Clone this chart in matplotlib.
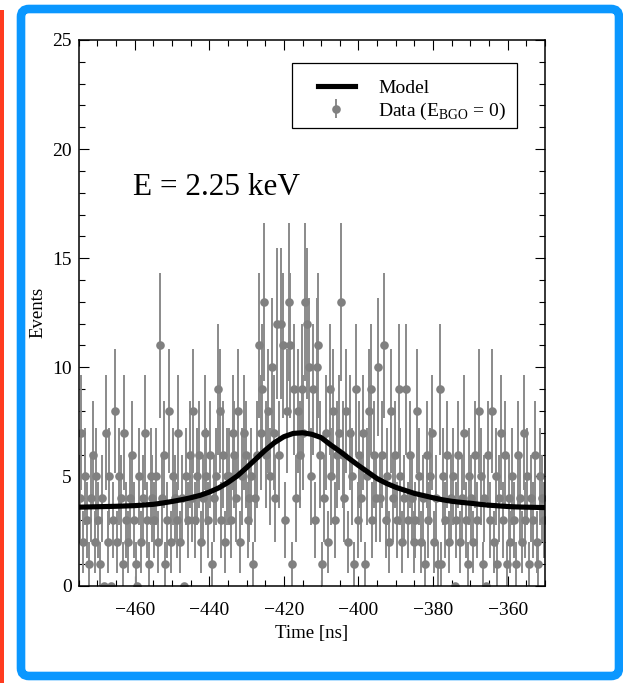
import numpy as np
import matplotlib
matplotlib.use("Agg")
import matplotlib.pyplot as plt
from matplotlib.patches import FancyBboxPatch, Rectangle
from matplotlib.lines import Line2D
from matplotlib.ticker import MultipleLocator

plt.rcParams['font.family'] = ['Liberation Serif', 'DejaVu Serif']
plt.rcParams['mathtext.fontset'] = 'custom'
plt.rcParams['mathtext.rm'] = 'Liberation Serif'

# ---- data ----
bin_start = -474.75   # centre of first bin [ns]
bin_width = 0.5       # [ns]
counts = [
    4, 7, 2, 5, 3, 1, 4, 6, 2, 5, 3, 1, 4, 0, 7, 2, 5, 0, 3, 8,
    2, 5, 4, 1, 7, 3, 2, 4, 6, 3, 1, 0, 5, 2, 4, 7, 3, 1, 5, 4,
    3, 5, 2, 11, 4, 6, 1, 3, 8, 2, 5, 4, 3, 7, 2, 4, 0, 5, 3, 6,
    4, 8, 3, 5, 6, 2, 4, 7, 5, 3, 6, 1, 4, 5, 9, 8, 3, 6, 2, 5,
    5, 3, 7, 6, 4, 8, 2, 5, 7, 6, 3, 4, 5, 1, 4, 6, 11, 7, 9, 13,
    6, 8, 5, 10, 7, 4, 12, 6, 12, 11, 3, 8, 13, 11, 1, 9, 4, 8, 6, 9,
    7, 13, 12, 10, 5, 9, 3, 10, 11, 6, 1, 4, 7, 2, 9, 5, 8, 3, 6, 7,
    13, 6, 4, 8, 2, 7, 5, 1, 9, 3, 6, 4, 7, 1, 5, 8, 9, 3, 6, 4,
    10, 4, 6, 11, 3, 5, 2, 8, 4, 6, 3, 9, 5, 2, 4, 9, 3, 6, 4, 2,
    3, 8, 5, 2, 4, 1, 6, 3, 5, 7, 2, 4, 1, 9, 1, 5, 3, 6, 2, 4,
    5, 0, 3, 6, 2, 4, 7, 3, 1, 5, 4, 2, 6, 3, 8, 5, 1, 4, 0, 6,
    3, 8, 2, 5, 1, 4, 7, 3, 6, 1, 4, 2, 5, 3, 1, 6, 4, 2, 7, 3,
    5, 1, 4, 3, 6, 2, 1, 5, 4, 3,
]

model_t = [-475, -470, -465, -460, -455, -452.5, -450, -447.5, -445, -442.5,
           -440, -437.5, -435, -432.5, -430, -427.5, -425, -422.5, -420, -417.5,
           -415, -412.5, -410, -407.5, -405, -402.5, -400, -397.5, -395, -392.5,
           -390, -387.5, -385, -382.5, -380, -377.5, -375, -372.5, -370, -367.5,
           -365, -362.5, -360, -357.5, -355, -352.5, -350]
model_y = [3.59, 3.61, 3.63, 3.66, 3.72, 3.78, 3.85, 3.93, 4.02, 4.13,
           4.28, 4.47, 4.72, 5.02, 5.40, 5.80, 6.20, 6.55, 6.82, 6.97,
           7.00, 6.93, 6.78, 6.45, 6.15, 5.82, 5.50, 5.20, 4.90, 4.68,
           4.50, 4.36, 4.22, 4.12, 4.02, 3.93, 3.86, 3.81, 3.77, 3.72,
           3.68, 3.65, 3.62, 3.60, 3.59, 3.58, 3.57]

x_ticks = [-460, -440, -420, -400, -380, -360]
y_ticks = [0, 5, 10, 15, 20, 25]

counts = np.array(counts, dtype=float)
t = bin_start + bin_width * np.arange(len(counts))
err = np.sqrt(counts)

W, H = 623, 683
fig = plt.figure(figsize=(W / 100, H / 100), dpi=100)
fig.patch.set_facecolor('white')

# decorations (display/pixel coordinates)
fig.add_artist(Rectangle((0, 0), 4, H - 10, transform=None,
                         facecolor='#FF3B1F', edgecolor='none', zorder=5))
fig.add_artist(FancyBboxPatch((21, 7), 598, 667, transform=None,
                              boxstyle='round,pad=0,rounding_size=8',
                              facecolor='none', edgecolor='#0A97FF', lw=6.2,
                              zorder=5))

ax = fig.add_axes([78.7 / W, 1 - 585.5 / H, (545 - 78.7) / W, (585.5 - 40) / H])

eb_kw = dict(fmt='o', color='#808080', ecolor='#8a8a8a', elinewidth=1.4,
             capsize=2.8, capthick=1.2, markersize=6.2, markeredgewidth=0)
ax.errorbar(t, counts, yerr=err, zorder=2, **eb_kw)
ax.plot(model_t, model_y, color='black', lw=3.7, zorder=3,
        solid_joinstyle='round')

ax.set_xlim(-475, -350)
ax.set_ylim(0, 25)
ax.set_xticks(x_ticks)
ax.set_xticklabels(['\u2212' + str(abs(v)) for v in x_ticks])
ax.set_yticks(y_ticks)
ax.xaxis.set_minor_locator(MultipleLocator(5))
ax.yaxis.set_minor_locator(MultipleLocator(1))
ax.tick_params(which='both', direction='in', top=True, right=True,
               labelsize=14, width=0.8)
ax.tick_params(which='major', length=7.5)
ax.tick_params(which='minor', length=4)
ax.tick_params(axis='x', pad=12)
ax.tick_params(axis='y', pad=5)
for s in ax.spines.values():
    s.set_linewidth(1.1)

ax.set_xlabel('Time [ns]', fontsize=13.5, labelpad=4)
ax.set_ylabel('Events', fontsize=13.5, labelpad=4)

ax.text(0.116, 0.73, 'E = 2.25 keV', transform=ax.transAxes,
        fontsize=22.5, va='center', ha='left')

# legend frame
ax.add_patch(Rectangle((0.4574, 0.8387), 0.94 - 0.4574, 0.9578 - 0.8387,
                       transform=ax.transAxes, facecolor='white',
                       edgecolor='black', lw=0.9, zorder=4))
h_model = Line2D([], [], color='black', lw=3.7)
h_data = ax.errorbar([], [], yerr=[], **eb_kw)
leg = ax.legend([h_model, h_data],
                ['Model', r'Data (E$_\mathregular{BGO}$ = 0)'],
                loc='upper left', bbox_to_anchor=((318 - 78.7) / 466.3, (585.5 - 79) / 545.5),
                borderaxespad=0, borderpad=0, fontsize=14, frameon=False,
                handlelength=1.9, handletextpad=1.2, labelspacing=0.2)
leg.set_zorder(5)

fig.savefig('out.png', dpi=100, facecolor='white')
